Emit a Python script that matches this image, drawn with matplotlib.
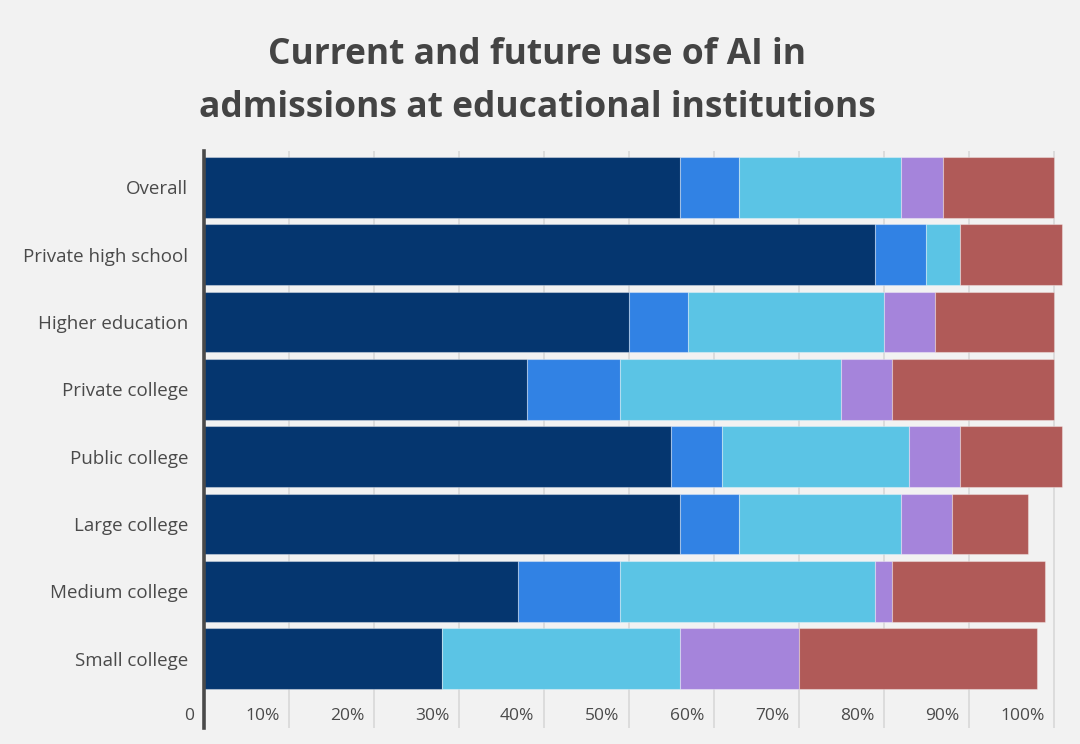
import matplotlib
matplotlib.use("Agg")
import matplotlib.pyplot as plt
import matplotlib.transforms as mtransforms
import numpy as np

categories = ["Overall", "Private high school", "Higher education", "Private college",
              "Public college", "Large college", "Medium college", "Small college"]
seg1 = [56, 79, 50, 38, 55, 56, 37, 28]
seg2 = [7, 6, 7, 11, 6, 7, 12, 0]
seg3 = [19, 4, 23, 26, 22, 19, 30, 28]
seg4 = [5, 0, 6, 6, 6, 6, 2, 14]
seg5 = [13, 12, 14, 19, 12, 9, 18, 28]
tick_values = [0, 10, 20, 30, 40, 50, 60, 70, 80, 90, 100]
tick_labels = ["0", "10%", "20%", "30%", "40%", "50%", "60%", "70%", "80%", "90%", "100%"]

colors = ["#05366f", "#3182e4", "#5bc4e5", "#a584db", "#b05a58"]
bg = "#f2f2f2"

fig = plt.figure(figsize=(10.8, 7.44), dpi=100, facecolor=bg)
ax = fig.add_axes([203.5/1080, 1-728/744, 867/1080, (728-151)/744])
ax.set_facecolor(bg)

y = np.arange(len(categories))
left = np.zeros(len(categories))
for vals, c in zip([seg1, seg2, seg3, seg4, seg5], colors):
    v = np.array(vals, dtype=float)
    ax.barh(y, v, left=left, height=0.9, color=c, edgecolor=(1, 1, 1, 0.35), linewidth=0.8, zorder=3)
    left += v

ax.set_xlim(0, 102)
ax.set_ylim(8.03, -0.54)

for s in ["top", "right", "bottom"]:
    ax.spines[s].set_visible(False)
ax.spines["left"].set_color("#4a4a4a")
ax.spines["left"].set_linewidth(2.6)
ax.spines["left"].set_zorder(5)

ax.set_xticks(tick_values)
ax.set_xticklabels([])
ax.tick_params(axis="x", length=0)
ax.grid(axis="x", color="#d6d6d6", linewidth=1.1, zorder=0)
ax.set_axisbelow(True)

ax.set_yticks(y)
ax.set_yticklabels(categories, fontsize=13.5, color="#4a4a4a", family="Open Sans")
ax.tick_params(axis="y", length=0, pad=11)

offset = mtransforms.ScaledTranslation(-9/100, 0, fig.dpi_scale_trans)
trans = mtransforms.blended_transform_factory(ax.transData, ax.transAxes) + offset
for v, lab in zip(tick_values, tick_labels):
    ax.text(v, (728-716)/577, lab, transform=trans, ha="right", va="center",
            fontsize=12.5, color="#4a4a4a", family="Open Sans")

fig.text(537/1080, 1-55/744, "Current and future use of AI in", ha="center", va="center",
         fontsize=25.5, fontweight="bold", color="#444444", family="Open Sans")
fig.text(537/1080, 1-108/744, "admissions at educational institutions", ha="center", va="center",
         fontsize=25.5, fontweight="bold", color="#444444", family="Open Sans")

fig.savefig("out.png", dpi=100, facecolor=bg)
